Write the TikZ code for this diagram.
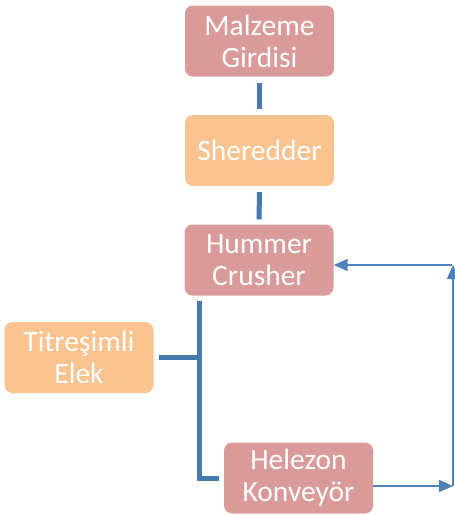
\documentclass[tikz,border=0pt]{standalone}
\usepackage{fontspec}
\setmainfont{Carlito}
\usetikzlibrary{arrows.meta}
\definecolor{pinkbox}{HTML}{DA9A9A}
\definecolor{orangebox}{HTML}{FAC390}
\definecolor{thickblue}{HTML}{4A78B0}
\definecolor{thinblue}{HTML}{4F81BD}
\begin{document}
\begin{tikzpicture}[x=1pt,y=-1pt,
  box/.style={rounded corners=8pt, minimum width=149pt, minimum height=71pt, inner sep=0pt,
    align=center, text=white, font=\fontsize{29.5}{32}\selectfont},
  pinkb/.style={box, fill=pinkbox},
  orangeb/.style={box, fill=orangebox},
  thick link/.style={draw=thickblue, line width=5pt},
  thin arrow/.style={draw=thinblue, line width=1.6pt, -{Triangle[length=14pt,width=12pt]}}]
\useasboundingbox (0,0) rectangle (455,515);
\node[pinkb] (mal) at (259.5,41) {Malzeme\\Girdisi};
\node[orangeb] (she) at (259.5,150.5) {Sheredder};
\node[pinkb] (hum) at (259,260) {Hummer\\Crusher};
\node[orangeb] (elk) at (79,357.5) {Titreşimli\\Elek};
\node[pinkb] (hel) at (298.5,478) {Helezon\\Konveyör};
\coordinate (ttop) at (199,301);
\coordinate (tbot) at (199,478);
\coordinate (tmid) at (199,357.5);
\coordinate (rb) at (453,486);
\coordinate (rt) at (453,265);
\draw[thick link] ([yshift=-6pt]mal.south) -- ([yshift=6pt]she.north);
\draw[thick link] ([yshift=-6pt]she.south) -- ([yshift=5pt]hum.north);
\draw[thick link] (ttop) -- (tbot) -- ([xshift=-5pt]hel.west);
\draw[thick link] ([xshift=5pt]elk.east) -- (tmid);
\draw[thin arrow] ([yshift=-8pt]hel.east) -- (rb);
\draw[thin arrow] (rb) -- (rt);
\draw[thin arrow] ([xshift=-1pt]rt) -- ([yshift=-5pt]hum.east);
\end{tikzpicture}
\end{document}
